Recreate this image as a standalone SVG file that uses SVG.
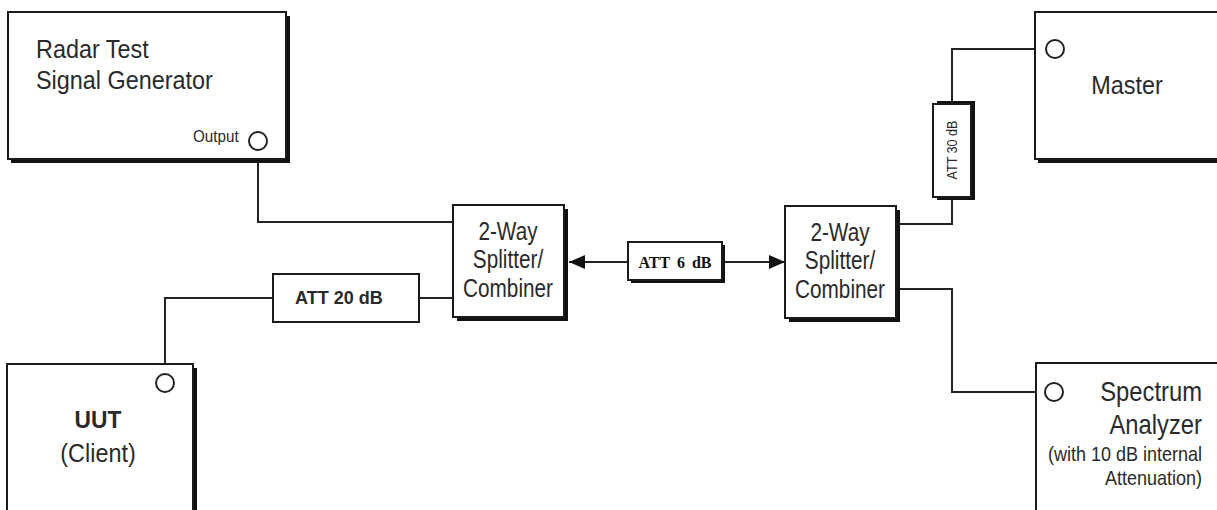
<svg xmlns="http://www.w3.org/2000/svg" width="1217" height="510" viewBox="0 0 1217 510">
<style>
.box{fill:#fff;stroke:#1a1a1a;stroke-width:2}
.sh{fill:#111}
.wire{fill:none;stroke:#222;stroke-width:2}
.port{fill:#fff;stroke:#222;stroke-width:2}
.t{font-family:"Liberation Sans",Arial,sans-serif;fill:#2a2a2a}
.big{font-size:26px}
.mid{font-size:25px}
.sm{font-size:20px}
.b{font-weight:bold}
</style>
<defs>
<marker id="arr" viewBox="0 0 16 14" refX="16" refY="7" markerWidth="16" markerHeight="14" markerUnits="userSpaceOnUse" orient="auto">
<path d="M0,0 L16,7 L0,14 z" fill="#111"/>
</marker>
</defs>
<rect width="1217" height="510" fill="#fff"/>

<g id="connectors">
<path class="wire" d="M258,151 V222 H453"/>
<path class="wire" d="M419,298 H453"/>
<path class="wire" d="M273,298 H165 V374"/>
<line class="wire" x1="628" y1="262" x2="569" y2="262" marker-end="url(#arr)"/>
<line class="wire" x1="724" y1="262" x2="785" y2="262" marker-end="url(#arr)"/>
<path class="wire" d="M899,224 H952 V199"/>
<path class="wire" d="M952,103 V49 H1046"/>
<path class="wire" d="M899,289 H952 V392 H1045"/>
</g>

<g id="radar">
<rect class="sh" x="11" y="16" width="279" height="147"/>
<rect class="box" x="8" y="12" width="278" height="147"/>
<text class="t big" transform="matrix(0.9,0,0,1,36,58)">Radar Test</text>
<text class="t big" transform="matrix(0.9,0,0,1,36,89)">Signal Generator</text>
<text class="t" transform="matrix(0.95,0,0,1,193,142)" font-size="16">Output</text>
<circle class="port" cx="258" cy="141" r="9"/>
</g>

<g id="uut">
<rect class="sh" x="11" y="368" width="186" height="150"/>
<rect class="box" x="7" y="364" width="186" height="160"/>
<circle class="port" cx="165" cy="383" r="9"/>
<text class="t b" transform="matrix(0.95,0,0,1,98,428)" text-anchor="middle" font-size="24">UUT</text>
<text class="t" transform="matrix(0.9,0,0,1,98,462)" text-anchor="middle" font-size="26">(Client)</text>
</g>

<g id="att20">
<rect class="box" x="273" y="274" width="146" height="48"/>
<text class="t b" x="295" y="304" font-size="18" fill="#000">ATT 20 dB</text>
</g>

<g id="splitter1">
<rect class="sh" x="457" y="209" width="111" height="112"/>
<rect class="box" x="453" y="205" width="111" height="112"/>
<text class="t mid" transform="matrix(0.83,0,0,1,508,240)" text-anchor="middle">2-Way</text>
<text class="t mid" transform="matrix(0.83,0,0,1,508,268)" text-anchor="middle">Splitter/</text>
<text class="t mid" transform="matrix(0.83,0,0,1,508,297)" text-anchor="middle">Combiner</text>
</g>

<g id="att6">
<rect class="sh" x="631" y="245" width="94" height="38"/>
<rect class="box" x="628" y="242" width="94" height="38"/>
<text x="675" y="268" text-anchor="middle" font-family="'Liberation Serif','Times New Roman',serif" font-weight="bold" font-size="16" fill="#111" word-spacing="3">ATT 6 dB</text>
</g>

<g id="splitter2">
<rect class="sh" x="789" y="210" width="111" height="112"/>
<rect class="box" x="785" y="206" width="111" height="112"/>
<text class="t mid" transform="matrix(0.83,0,0,1,840,241)" text-anchor="middle">2-Way</text>
<text class="t mid" transform="matrix(0.83,0,0,1,840,269)" text-anchor="middle">Splitter/</text>
<text class="t mid" transform="matrix(0.83,0,0,1,840,298)" text-anchor="middle">Combiner</text>
</g>

<g id="att30">
<rect class="sh" x="937" y="101" width="38" height="99"/>
<rect class="box" x="933" y="104" width="38" height="93"/>
<text class="t" transform="translate(957,150) rotate(-90) scale(0.9,1)" text-anchor="middle" font-size="14">ATT 30 dB</text>
</g>

<g id="master">
<rect class="sh" x="1038" y="16" width="200" height="147"/>
<rect class="box" x="1035" y="12" width="200" height="147"/>
<circle class="port" cx="1055" cy="49" r="9"/>
<text class="t" transform="matrix(0.9,0,0,1,1127,94)" text-anchor="middle" font-size="26">Master</text>
</g>

<g id="spectrum">
<rect class="box" x="1036" y="363" width="200" height="160"/>
<circle class="port" cx="1054" cy="392" r="9"/>
<text class="t" transform="matrix(0.85,0,0,1,1202,401)" text-anchor="end" font-size="28">Spectrum</text>
<text class="t" transform="matrix(0.85,0,0,1,1202,434)" text-anchor="end" font-size="28">Analyzer</text>
<text class="t sm" transform="matrix(0.9,0,0,1,1202,461)" text-anchor="end">(with 10 dB internal</text>
<text class="t sm" transform="matrix(0.9,0,0,1,1202,485)" text-anchor="end">Attenuation)</text>
</g>
</svg>
